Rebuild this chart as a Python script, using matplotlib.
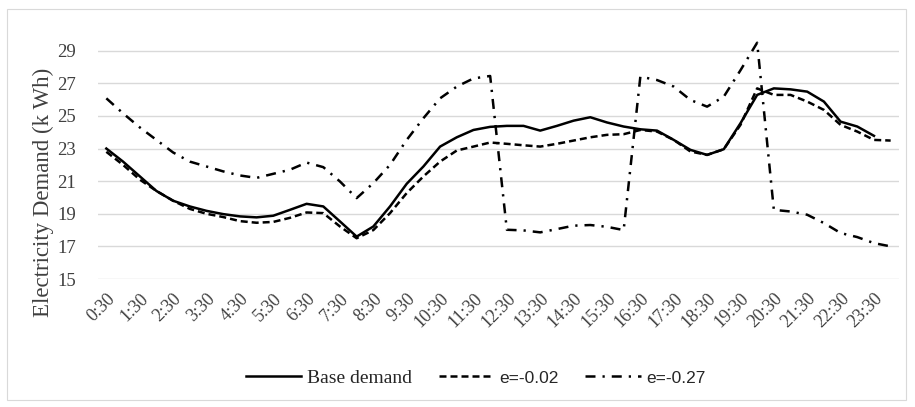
import matplotlib
matplotlib.use("Agg")
import matplotlib.pyplot as plt
from matplotlib.patches import Rectangle

# ---- data ----
times = ["0:30", "1:00", "1:30", "2:00", "2:30", "3:00", "3:30", "4:00", "4:30", "5:00",
         "5:30", "6:00", "6:30", "7:00", "7:30", "8:00", "8:30", "9:00", "9:30", "10:00",
         "10:30", "11:00", "11:30", "12:00", "12:30", "13:00", "13:30", "14:00", "14:30", "15:00",
         "15:30", "16:00", "16:30", "17:00", "17:30", "18:00", "18:30", "19:00", "19:30", "20:00",
         "20:30", "21:00", "21:30", "22:00", "22:30", "23:00", "23:30", "24:00"]

base_demand = [23.0, 22.2, 21.3, 20.4, 19.8, 19.45, 19.18, 18.98, 18.84, 18.78,
               18.88, 19.24, 19.61, 19.45, 18.53, 17.6, 18.22, 19.45, 20.84, 21.9,
               23.12, 23.69, 24.14, 24.33, 24.39, 24.39, 24.1, 24.39, 24.71, 24.92,
               24.6, 24.35, 24.18, 24.1, 23.53, 22.92, 22.61, 22.96, 24.55, 26.29,
               26.69, 26.63, 26.49, 25.88, 24.65, 24.35, 23.78]

e_002 = [22.8, 22.0, 21.1, 20.4, 19.8, 19.3, 19.0, 18.8, 18.55, 18.45,
         18.5, 18.75, 19.08, 19.04, 18.22, 17.5, 18.0, 19.04, 20.27, 21.29,
         22.2, 22.88, 23.12, 23.37, 23.29, 23.2, 23.12, 23.29, 23.49, 23.69,
         23.84, 23.88, 24.14, 24.04, 23.53, 22.82, 22.61, 22.96, 24.45, 26.69,
         26.29, 26.29, 25.88, 25.37, 24.45, 24.04, 23.53, 23.49]

e_027 = [26.08, 25.16, 24.3, 23.53, 22.76, 22.2, 21.9, 21.6, 21.35, 21.2,
         21.45, 21.7, 22.14, 21.86, 20.98, 19.96, 20.88, 22.0, 23.53, 24.86,
         26.08, 26.8, 27.3, 27.45, 18.02, 17.98, 17.86, 18.06, 18.27, 18.31,
         18.2, 18.0, 27.41, 27.2, 26.8, 25.98, 25.57, 26.18, 27.8, 29.49,
         19.24, 19.14, 18.94, 18.43, 17.82, 17.57, 17.2, 17.0]

y_ticks = [15, 17, 19, 21, 23, 25, 27, 29]

# ---- figure ----
W, H = 915, 407
fig = plt.figure(figsize=(W / 100, H / 100), dpi=100)
fig.patch.set_facecolor("white")
fig.patches.append(Rectangle((7 / W, 1 - 400 / H), 899 / W, 391 / H, transform=fig.transFigure,
                             fill=False, edgecolor="#d9d9d9", linewidth=0.8))

ax = fig.add_axes([98 / W, 1 - 279 / H, 801 / W, (279 - 34.4) / H])
serif = "Liberation Serif"

x_base = list(range(len(base_demand)))
x_002 = list(range(len(e_002)))
x_027 = list(range(len(e_027)))

lw = 1.8
l1, = ax.plot(x_base, base_demand, color="black", lw=lw, solid_joinstyle="round", label="Base demand")
l2, = ax.plot(x_002, e_002, color="black", lw=lw, linestyle=(0, (2.8, 1.6)), label="e=-0.02")
l3, = ax.plot(x_027, e_027, color="black", lw=lw, linestyle=(0, (4.0, 2.8, 0.9, 2.8)), label="e=-0.27")

ax.set_xlim(-0.5, len(times) - 0.5)
ax.set_ylim(15, 30)
ax.set_yticks(y_ticks)
ax.set_yticklabels([str(v) for v in y_ticks], fontfamily=serif, fontsize=13.5, color="#404040")
ax.set_xticks(list(range(0, len(times), 2)))
ax.set_xticklabels(times[::2], rotation=45, ha="right", va="top", rotation_mode="anchor",
                   fontfamily=serif, fontsize=13, color="#404040")
ax.tick_params(axis="both", length=0)
ax.tick_params(axis="y", pad=16)
ax.tick_params(axis="x", pad=8)
ax.grid(axis="y", color="#d9d9d9", linewidth=1.0)
ax.set_axisbelow(True)
for s in ax.spines.values():
    s.set_visible(False)

fig.text(43 / W, 1 - 192 / H, "Electricity Demand (k Wh)", rotation=90, ha="center", va="center",
         fontfamily=serif, fontsize=16.5, color="#404040")

leg = fig.legend(handles=[l1, l2, l3], loc="center", bbox_to_anchor=(476 / W, 1 - 378 / H), ncol=3,
                 frameon=False, handlelength=2.85, handletextpad=0.3, columnspacing=1.35,
                 prop={"family": serif, "size": 14})
texts = leg.get_texts()
for t in texts[1:]:
    t.set_fontfamily(["Liberation Sans Narrow", "Liberation Sans"])
    t.set_fontsize(12.5)
for t in texts:
    t.set_color("#262626")

fig.savefig("out.png", dpi=100, facecolor="white")
